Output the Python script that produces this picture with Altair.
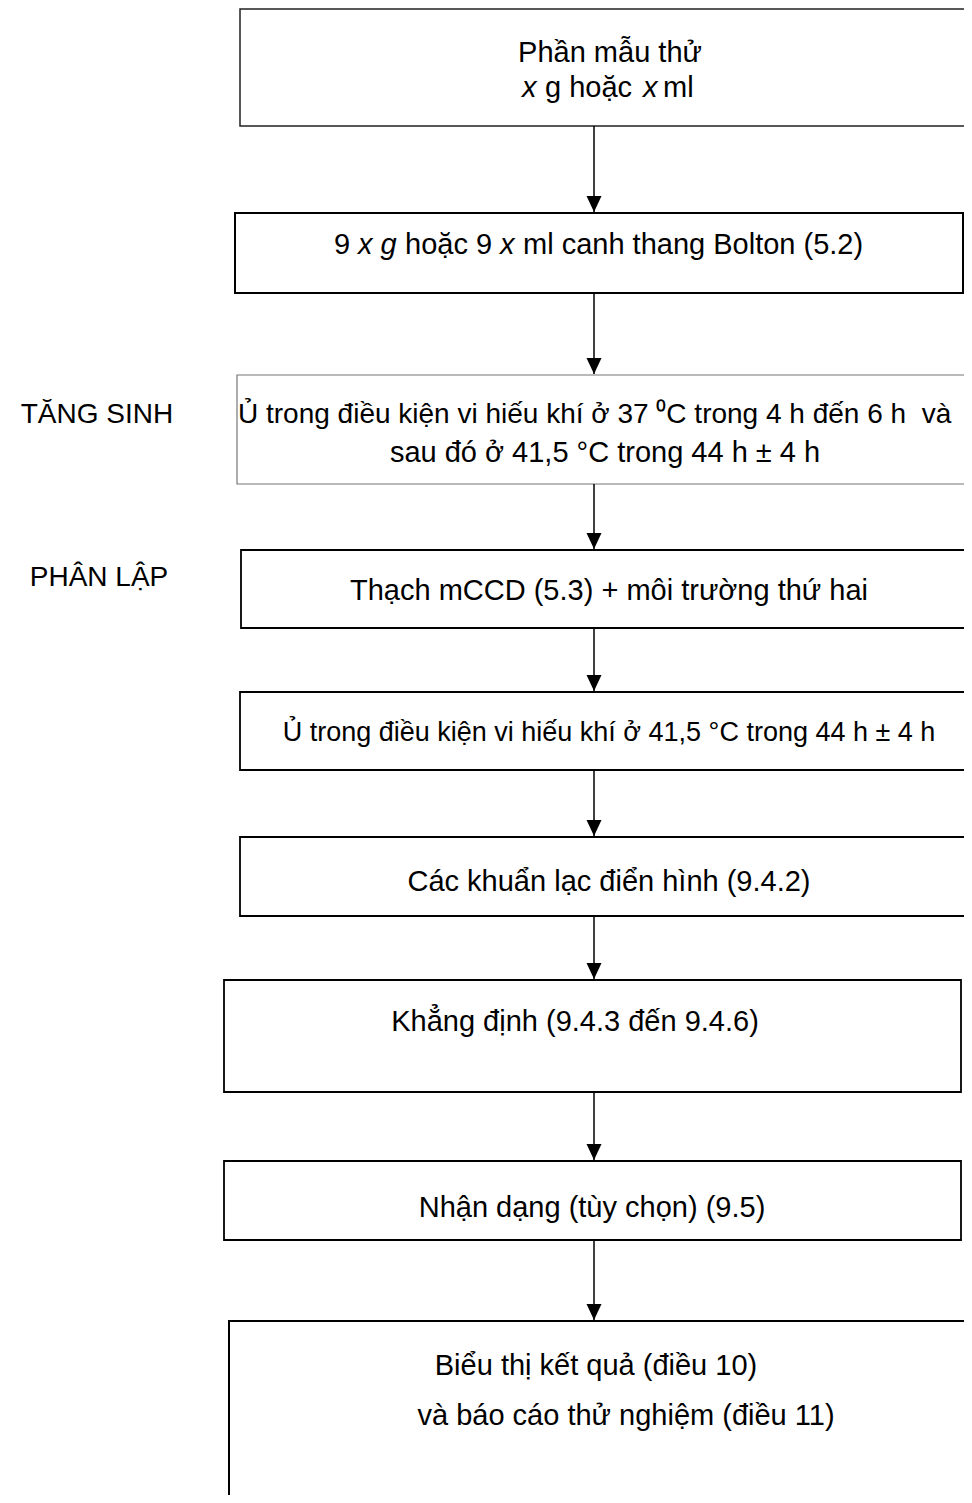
import altair as alt
import pandas as pd

# ---- flowchart content ----
seg_text = [
    "Phần mẫu thử",
    "x", "g hoặc", "x", "ml",
    "9", "x g", "hoặc 9", "x", "ml canh thang Bolton (5.2)",
    "Ủ trong điều kiện vi hiếu khí ở 37 ⁰C trong 4 h đến 6 h\u00a0\u00a0và",
    "sau đó ở 41,5 °C trong 44 h ± 4 h",
    "Thạch mCCD (5.3) + môi trường thứ hai",
    "Ủ trong điều kiện vi hiếu khí ở 41,5 °C trong 44 h ± 4 h",
    "Các khuẩn lạc điển hình (9.4.2)",
    "Khẳng định (9.4.3 đến 9.4.6)",
    "Nhận dạng (tùy chọn) (9.5)",
    "Biểu thị kết quả (điều 10)",
    "và báo cáo thử nghiệm (điều 11)",
]
seg_x = [610, 522, 545, 643, 663, 334, 358, 405, 500, 523, 238, 605, 609, 609, 609, 575, 592, 596, 626]
seg_y = [53, 88, 88, 88, 88, 245, 245, 245, 245, 245, 415, 453, 591, 733, 882, 1022, 1208, 1366, 1416]
seg_align = ["center", "left", "left", "left", "left", "left", "left", "left", "left", "left",
             "left", "center", "center", "center", "center", "center", "center", "center", "center"]
seg_italic = [False, True, False, True, False, False, True, False, True, False,
              False, False, False, False, False, False, False, False, False]
seg_size = [29, 29, 29, 29, 29, 29, 29, 29, 29, 29, 28, 29, 29, 27, 29, 29, 29, 29, 29]

box_left = [240, 235, 237, 241, 240, 240, 224, 224, 229]
box_right = [1000, 963, 1000, 1000, 1000, 1000, 961, 961, 965]
box_top = [9, 213, 375, 550, 692, 837, 980, 1161, 1321]
box_bottom = [126, 293, 484, 628, 770, 916, 1092, 1240, 1540]
box_stroke = ["#222", "black", "#777", "black", "black", "black", "black", "black", "black"]
box_width = [1.5, 2.0, 1.2, 1.8, 1.8, 1.8, 1.8, 1.8, 2.0]

side_labels = ["TĂNG SINH", "PHÂN LẬP"]
side_x = [97, 99]
side_y = [415, 578]

arrow_x = 594

W, H = 956, 1487
xs = alt.Scale(domain=[8, 8 + W], nice=False, zero=False)
ys = alt.Scale(domain=[8, 8 + H], nice=False, zero=False, reverse=True)

boxes = pd.DataFrame({
    "x0": box_left, "x1": box_right, "y0": box_top, "y1": box_bottom,
    "stroke": box_stroke, "sw": box_width,
})
texts = pd.DataFrame({"text": seg_text, "x": seg_x, "y": seg_y, "al": seg_align,
                      "it": seg_italic, "fs": seg_size})
arrows = pd.DataFrame({
    "x": [arrow_x] * (len(box_top) - 1),
    "y0": box_bottom[:-1],
    "y1": [t - 1 for t in box_top[1:]],
})
labels = pd.DataFrame({"text": side_labels, "x": side_x, "y": side_y})

X = lambda f: alt.X(f, scale=xs, axis=None)
Y = lambda f: alt.Y(f, scale=ys, axis=None)

rect_layers = []
for s, sw in sorted(set(zip(box_stroke, box_width))):
    sub = boxes[(boxes["stroke"] == s) & (boxes["sw"] == sw)]
    rect_layers.append(
        alt.Chart(sub).mark_rect(fill="white", stroke=s, strokeWidth=sw, clip=True).encode(
            x=X("x0:Q"), x2="x1", y=Y("y0:Q"), y2="y1",
        )
    )

stems = alt.Chart(arrows).mark_rule(color="black", strokeWidth=1.5).encode(
    x=X("x:Q"), y=Y("y0:Q"), y2="y1",
)
heads = alt.Chart(arrows).mark_point(
    shape="M-0.5,-1.07 L0.5,-1.07 L0,0 Z", size=900, filled=True, color="black", opacity=1,
    strokeWidth=0,
).encode(x=X("x:Q"), y=Y("y1:Q"))

text_layers = []
for (a, it, fs), sub in texts.groupby(["al", "it", "fs"]):
    text_layers.append(
        alt.Chart(sub).mark_text(font="Liberation Sans", fontSize=int(fs), align=a,
                                 fontStyle="italic" if it else "normal",
                                 baseline="middle", color="black", clip=True).encode(
            x=X("x:Q"), y=Y("y:Q"), text="text:N",
        )
    )

side = alt.Chart(labels).mark_text(font="Liberation Sans", fontSize=28, align="center",
                                   baseline="middle", color="black").encode(
    x=X("x:Q"), y=Y("y:Q"), text="text:N",
)

chart = alt.layer(*rect_layers, stems, heads, *text_layers, side).properties(
    width=W, height=H, padding=0, autosize=alt.AutoSizeParams(type="none"), background="white"
).configure_view(stroke=None)

chart.save("out.html", embed_options={"renderer": "svg", "actions": False})
